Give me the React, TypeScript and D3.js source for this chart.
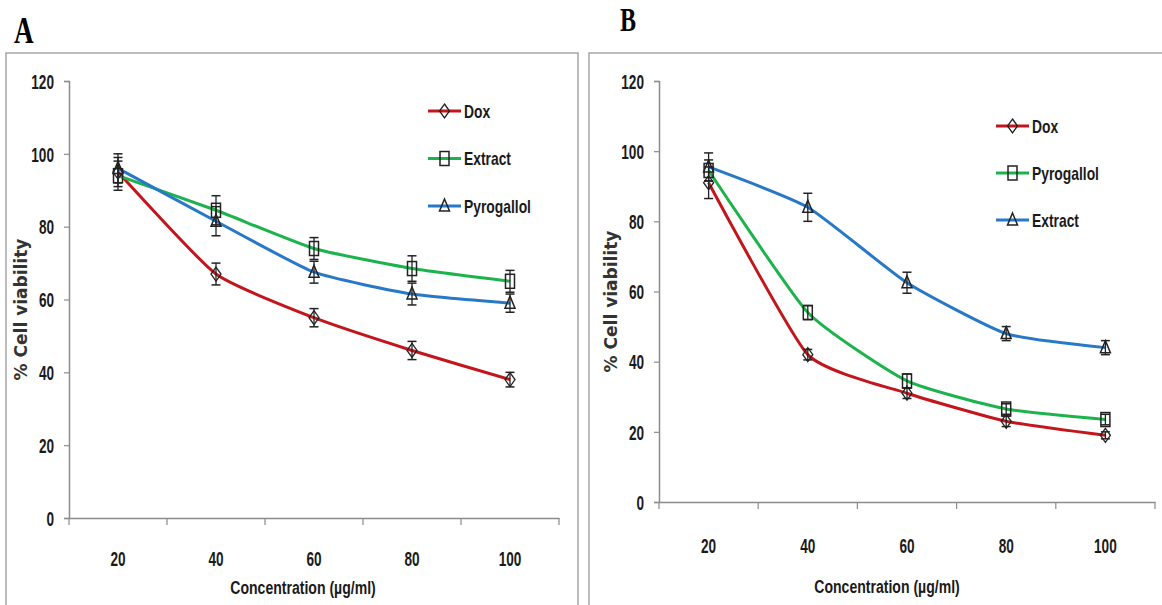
import React, { useEffect, useRef } from 'react';
import * as d3 from 'd3';

// concentrations (µg/ml) on the x axis
const concentrations = ['20', '40', '60', '80', '100'];
const yTicks = [0, 20, 40, 60, 80, 100, 120];

// panel A
const doxA = [95, 67, 55, 46, 38];
const doxAErr = [4, 3, 2.5, 2.5, 2];
const extractA = [94, 84.5, 74, 68.5, 65];
const extractAErr = [4, 4, 3, 3.5, 3];
const pyroA = [96, 81.5, 67.5, 61.5, 59];
const pyroAErr = [4, 4, 3, 3, 2.5];

// panel B
const doxB = [91, 42, 31, 23, 19];
const doxBErr = [4.5, 1.5, 1.5, 1.5, 1];
const pyroB = [94.5, 54, 34.5, 26.5, 23.5];
const pyroBErr = [3, 2, 2, 1.5, 1.5];
const extractB = [95.5, 84, 62.5, 48, 44];
const extractBErr = [4, 4, 3, 2, 2];

const RED = '#c3161c';
const GREEN = '#1db34c';
const BLUE = '#2878c8';
const FONT = "'Liberation Sans', Arial, sans-serif";

type Series = { name: string; values: number[]; errs: number[]; color: string; marker: string };

// narrow text, the source uses a condensed face
const narrow = (g: any, x: number, y: number, txt: string, size: number, sx: number, anchor = 'start') =>
  g.append('text').attr('transform', `translate(${x},${y}) scale(${sx},1)`).attr('text-anchor', anchor)
    .attr('font-family', FONT).attr('font-weight', 'bold').attr('font-size', size).attr('fill', '#1a1a1a').text(txt);

const drawMarker = (g: any, kind: string, x: number, y: number) => {
  const w = 5, h = 7;
  if (kind === 'diamond') {
    g.append('path').attr('d', `M${x},${y - h}L${x + w},${y}L${x},${y + h}L${x - w},${y}Z`)
      .attr('fill', 'none').attr('stroke', '#222').attr('stroke-width', 1.3);
  } else if (kind === 'square') {
    g.append('rect').attr('x', x - w + 0.5).attr('y', y - h).attr('width', 2 * w - 1).attr('height', 2 * h)
      .attr('fill', 'none').attr('stroke', '#222').attr('stroke-width', 1.5);
  } else {
    g.append('path').attr('d', `M${x},${y - h}L${x + w},${y + 5}L${x - w},${y + 5}Z`)
      .attr('fill', 'none').attr('stroke', '#222').attr('stroke-width', 1.5);
  }
};

const drawPanel = (svg: any, opt: any) => {
  const { box, left, right, top, bottom, series, legendX, legendY, legendGap } = opt;
  svg.append('rect').attr('x', box[0]).attr('y', box[1]).attr('width', box[2]).attr('height', box[3])
    .attr('fill', 'none').attr('stroke', '#a6a6a6').attr('stroke-width', 1.5);
  svg.append('text').attr('transform', `translate(${opt.labelX},${opt.labelY}) scale(0.8,1.1)`).text(opt.label)
    .attr('font-family', "'Liberation Serif', 'DejaVu Serif', serif").attr('font-weight', 'bold')
    .attr('font-size', opt.labelSize);

  const x = d3.scaleBand().domain(concentrations).range([left, right]).padding(0);
  const y = d3.scaleLinear().domain([0, 120]).range([bottom, top]);

  const yAxis = svg.append('g').attr('transform', `translate(${left},0)`)
    .call(d3.axisLeft(y).tickValues(yTicks).tickSize(5));
  const xAxis = svg.append('g').attr('transform', `translate(0,${bottom})`)
    .call(d3.axisBottom(x).tickSize(0));
  [yAxis, xAxis].forEach((a) => {
    a.select('.domain').attr('stroke', '#8c8c8c').attr('stroke-width', 1.5);
    a.selectAll('line').attr('stroke', '#8c8c8c').attr('stroke-width', 1.2);
    a.selectAll('text').attr('font-family', FONT).attr('font-weight', 'bold')
      .attr('font-size', 20).attr('fill', '#1a1a1a');
  });
  yAxis.selectAll('text').attr('x', 0).attr('dy', '0.36em').attr('transform', 'translate(-15,0) scale(0.68,1)');
  xAxis.selectAll('text').attr('y', 0).attr('dy', 0).attr('transform', `translate(0,${opt.tickLabelY}) scale(0.68,1)`);

  // boundary ticks between categories
  const bounds = concentrations.map((c) => x(c) as number).concat([right]);
  svg.append('g').selectAll('line').data(bounds).enter().append('line')
    .attr('x1', (d: number) => d).attr('x2', (d: number) => d)
    .attr('y1', bottom).attr('y2', bottom + 7)
    .attr('stroke', '#8c8c8c').attr('stroke-width', 1.2);

  narrow(svg, opt.xTitleX, opt.xTitleY, 'Concentration (µg/ml)', 19, 0.74, 'middle');
  svg.append('text').attr('transform', `translate(${opt.yTitleX},${(top + bottom) / 2 + 10}) rotate(-90)`)
    .attr('text-anchor', 'middle').attr('font-family', "'DejaVu Sans', Verdana, sans-serif")
    .attr('font-weight', 'bold').attr('font-size', 17).attr('fill', '#333')
    .text('% Cell viability');

  const cx = (i: number) => (x(concentrations[i]) as number) + x.bandwidth() / 2;
  const line = d3.line<number>().x((d, i) => cx(i)).y((d) => y(d)).curve(d3.curveCardinal.tension(0.5));

  series.forEach((s: Series) => {
    svg.append('path').datum(s.values).attr('d', line).attr('fill', 'none')
      .attr('stroke', s.color).attr('stroke-width', 3);
  });
  series.forEach((s: Series) => {
    const g = svg.append('g');
    s.values.forEach((v, i) => {
      const px = cx(i);
      const y1 = y(v + s.errs[i]);
      const y2 = y(v - s.errs[i]);
      g.append('line').attr('x1', px).attr('x2', px).attr('y1', y1).attr('y2', y2).attr('stroke', '#222').attr('stroke-width', 1.3);
      [y1, y2].forEach((yy) => g.append('line').attr('x1', px - 4.5).attr('x2', px + 4.5).attr('y1', yy).attr('y2', yy)
        .attr('stroke', '#222').attr('stroke-width', 1.5));
      drawMarker(g, s.marker, px, y(v));
    });
  });

  series.forEach((s: Series, i: number) => {
    const ly = legendY + i * legendGap;
    svg.append('line').attr('x1', legendX).attr('x2', legendX + 33).attr('y1', ly).attr('y2', ly)
      .attr('stroke', s.color).attr('stroke-width', 3);
    drawMarker(svg, s.marker, legendX + 16.5, ly);
    narrow(svg, legendX + 36, ly + 6.5, s.name, 18, 0.77);
  });
};

const App = () => {
  const ref = useRef<SVGSVGElement>(null);
  useEffect(() => {
    const svg = d3.select(ref.current);
    svg.selectAll('*').remove();
    drawPanel(svg, {
      box: [6, 53, 572, 560], left: 69, right: 559, top: 81, bottom: 518,
      label: 'A', labelX: 14, labelY: 43, labelSize: 34, xTitleX: 303, xTitleY: 594, yTitleX: 27, tickLabelY: 48,
      legendX: 428, legendY: 111, legendGap: 47.5,
      series: [
        { name: 'Dox', values: doxA, errs: doxAErr, color: RED, marker: 'diamond' },
        { name: 'Extract', values: extractA, errs: extractAErr, color: GREEN, marker: 'square' },
        { name: 'Pyrogallol', values: pyroA, errs: pyroAErr, color: BLUE, marker: 'triangle' },
      ],
    });
    drawPanel(svg, {
      box: [589, 53, 580, 560], left: 659, right: 1155, top: 81, bottom: 502,
      label: 'B', labelX: 620, labelY: 31, labelSize: 30, xTitleX: 887, xTitleY: 593, yTitleX: 617, tickLabelY: 51,
      legendX: 996, legendY: 126, legendGap: 47,
      series: [
        { name: 'Dox', values: doxB, errs: doxBErr, color: RED, marker: 'diamond' },
        { name: 'Pyrogallol', values: pyroB, errs: pyroBErr, color: GREEN, marker: 'square' },
        { name: 'Extract', values: extractB, errs: extractBErr, color: BLUE, marker: 'triangle' },
      ],
    });
  }, []);
  return (
    <svg ref={ref} width={1162} height={605} style={{ position: 'absolute', left: 0, top: 0, background: '#fff' }} />
  );
};

export default App;
